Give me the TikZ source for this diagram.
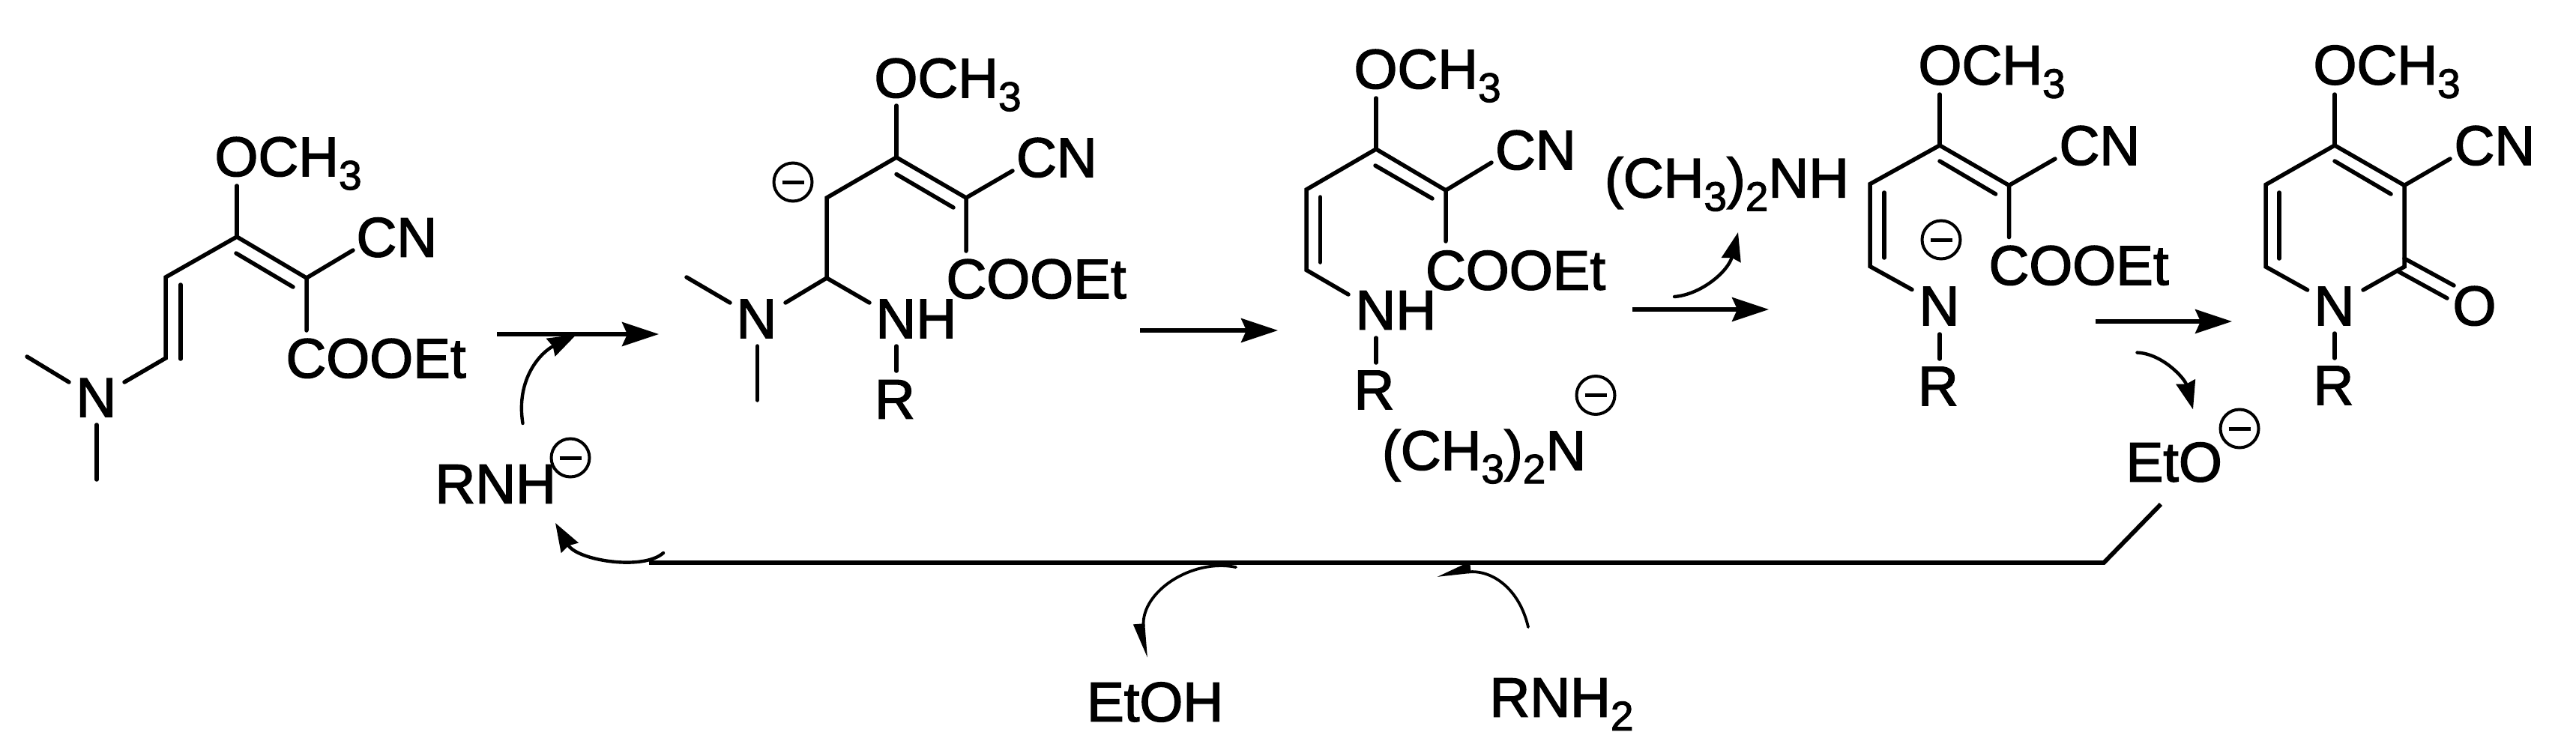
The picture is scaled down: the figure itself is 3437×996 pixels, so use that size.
\documentclass[tikz,border=0pt]{standalone}
\usepackage{fontspec}
\setmainfont{Liberation Sans}
\newfontface\chemfont[FakeBold=2]{Liberation Sans}
\usetikzlibrary{arrows.meta}
\newcommand{\lowidx}[1]{\raisebox{-18pt}{\fontsize{55}{60}\selectfont #1}}
\tikzset{
  lbl/.style={anchor=base west,inner sep=0pt,outer sep=0pt,font=\fontsize{74.5}{80}\chemfont},
  bond/.style={line width=5.5pt,line cap=round,line join=miter},
  rxn/.style={line width=5.3pt,-{Stealth[length=49pt,width=32pt,inset=7pt]}},
  curvy/.style={line width=4.4pt,line cap=round,-{Stealth[length=38pt,width=26pt,inset=3pt]}},
  halfcurvy/.style={line width=3.8pt,line cap=round,-{Stealth[length=40pt,width=26pt,inset=0pt,right]}},
  chg/.style={circle,draw,minimum size=51pt,inner sep=0pt,line width=4pt,
    path picture={\draw[line width=5pt] ([xshift=-14.5pt]path picture bounding box.center) -- ([xshift=14.5pt]path picture bounding box.center);}}
}
\begin{document}
\begin{tikzpicture}[x=1pt,y=-1pt]
\useasboundingbox (0,0) rectangle (3437,996);
\fill[white] (0,0) rectangle (3437,996);

% --- molecule 1
\node[lbl] (a_ome) at (286.5,235) {OCH\lowidx{3}};
\node[lbl] (a_cn) at (475.5,342.5) {CN};
\node[lbl] (a_est) at (381.5,504) {COOEt};
\node[lbl] (a_n) at (101.5,556.4) {N};
\coordinate (a1) at (316,316);
\coordinate (a2) at (409,371);
\coordinate (a3) at (221,370);
\coordinate (a4) at (221,478);
\coordinate (a1o) at (316,248);
\coordinate (a2cn) at (471,334);
\coordinate (a2e) at (409,441);
\coordinate (a4n) at (166,510);
\coordinate (ai1) at (241,380);
\coordinate (ai2) at (241,479);
\coordinate (ai3) at (315,338);
\coordinate (ai4) at (391,383);
\coordinate (am1) at (36,476);
\coordinate (am1n) at (92,510);
\coordinate (am2n) at (129,567);
\coordinate (am2) at (129,640);
\draw[bond] (a4n) -- (a4) -- (a3) -- (a1) -- (a2) -- (a2e);
\draw[bond] (a1o) -- (a1);
\draw[bond] (a2) -- (a2cn);
\draw[bond] (ai1) -- (ai2);
\draw[bond] (ai3) -- (ai4);
\draw[bond] (am1) -- (am1n);
\draw[bond] (am2n) -- (am2);

% --- molecule 2
\node[lbl] (b_ome) at (1166.5,130) {OCH\lowidx{3}};
\node[lbl] (b_cn) at (1356,236) {CN};
\node[lbl] (b_est) at (1262.5,398) {COOEt};
\node[lbl] (b_n) at (982.5,451) {N};
\node[lbl] (b_nh) at (1168.5,451) {NH};
\node[lbl] (b_r) at (1167,558.6) {R};
\node[chg] (b_c) at (1058,243) {};
\coordinate (b1) at (1196,210);
\coordinate (b2) at (1289,264);
\coordinate (b3) at (1103,264);
\coordinate (b4) at (1103,371);
\coordinate (b1o) at (1196,141);
\coordinate (b2cn) at (1351,228);
\coordinate (b2e) at (1289,335);
\coordinate (b4n) at (1048,404);
\coordinate (b4h) at (1160,404);
\coordinate (bi1) at (1196,232.5);
\coordinate (bi2) at (1272,277);
\coordinate (bm1) at (916,370);
\coordinate (bm1n) at (974,404);
\coordinate (bm2n) at (1010.4,462);
\coordinate (bm2) at (1010.4,534);
\coordinate (brn) at (1196,462);
\coordinate (brr) at (1196,495);
\draw[bond] (b4n) -- (b4) -- (b3) -- (b1) -- (b2) -- (b2e);
\draw[bond] (b4) -- (b4h);
\draw[bond] (b1o) -- (b1);
\draw[bond] (b2) -- (b2cn);
\draw[bond] (bi1) -- (bi2);
\draw[bond] (bm1) -- (bm1n);
\draw[bond] (bm2n) -- (bm2);
\draw[bond] (brn) -- (brr);

% --- molecule 3
\node[lbl] (c_ome) at (1806.5,118) {OCH\lowidx{3}};
\node[lbl] (c_cn) at (1995,226) {CN};
\node[lbl] (c_est) at (1902,386.5) {COOEt};
\node[lbl] (c_nh) at (1808.5,439.6) {NH};
\node[lbl] (c_r) at (1806.5,546) {R};
\coordinate (c1) at (1836,199);
\coordinate (c2) at (1929,254);
\coordinate (c3) at (1743,253);
\coordinate (c4) at (1743,360.4);
\coordinate (c1o) at (1836,131);
\coordinate (c2cn) at (1990,217);
\coordinate (c2e) at (1929,322);
\coordinate (c4n) at (1799,393);
\coordinate (ci1) at (1761.4,263);
\coordinate (ci2) at (1761.4,350);
\coordinate (ci3) at (1835,221);
\coordinate (ci4) at (1911,265);
\coordinate (crn) at (1836,451);
\coordinate (crr) at (1836,484);
\draw[bond] (c4n) -- (c4) -- (c3) -- (c1) -- (c2) -- (c2e);
\draw[bond] (c1o) -- (c1);
\draw[bond] (c2) -- (c2cn);
\draw[bond] (ci1) -- (ci2);
\draw[bond] (ci3) -- (ci4);
\draw[bond] (crn) -- (crr);

\node[lbl] (dma) at (1844,627) {(CH\lowidx{3})\lowidx{2}N};
\node[chg] (dma_c) at (2129,527.5) {};
\node[lbl] (dmah) at (2141,263.4) {(CH\lowidx{3})\lowidx{2}NH};

% --- molecule 4
\node[lbl] (d_ome) at (2559.5,112.6) {OCH\lowidx{3}};
\node[lbl] (d_cn) at (2747.5,220) {CN};
\node[lbl] (d_est) at (2653.5,380) {COOEt};
\node[lbl] (d_n) at (2560.5,434) {N};
\node[lbl] (d_r) at (2559,541) {R};
\node[chg] (d_c) at (2590,320) {};
\coordinate (d1) at (2588,194);
\coordinate (d2) at (2680.5,247.4);
\coordinate (d3) at (2495,245.6);
\coordinate (d4) at (2495,355.5);
\coordinate (d1o) at (2588,126);
\coordinate (d2cn) at (2742,212);
\coordinate (d2e) at (2680.5,316.6);
\coordinate (d4n) at (2551,386.5);
\coordinate (di1) at (2514,257);
\coordinate (di2) at (2514,344);
\coordinate (di3) at (2588,215);
\coordinate (di4) at (2662.6,259);
\coordinate (drn) at (2588,446);
\coordinate (drr) at (2588,479);
\draw[bond] (d4n) -- (d4) -- (d3) -- (d1) -- (d2) -- (d2e);
\draw[bond] (d1o) -- (d1);
\draw[bond] (d2) -- (d2cn);
\draw[bond] (di1) -- (di2);
\draw[bond] (di3) -- (di4);
\draw[bond] (drn) -- (drr);

% --- molecule 5
\node[lbl] (e_ome) at (3086.5,112.6) {OCH\lowidx{3}};
\node[lbl] (e_cn) at (3274.5,220) {CN};
\node[lbl] (e_n) at (3087.5,434) {N};
\node[lbl] (e_o) at (3272.5,434) {O};
\node[lbl] (e_r) at (3086.5,540) {R};
\coordinate (e1) at (3115,194);
\coordinate (e2) at (3208,247.4);
\coordinate (e3) at (3023,246.5);
\coordinate (e4) at (3023,356);
\coordinate (e5) at (3208,356);
\coordinate (e1o) at (3115,126);
\coordinate (e2cn) at (3269,212);
\coordinate (e4n) at (3078.6,387);
\coordinate (e5n) at (3153,387);
\coordinate (ei1) at (3041,257);
\coordinate (ei2) at (3041,345);
\coordinate (ei3) at (3115,215);
\coordinate (ei4) at (3190,259);
\coordinate (eo1) at (3208,345);
\coordinate (eo2) at (3274,381);
\coordinate (eo3) at (3200.5,362.6);
\coordinate (eo4) at (3265,398);
\coordinate (ern) at (3115,445);
\coordinate (err) at (3115,478);
\draw[bond] (e4n) -- (e4) -- (e3) -- (e1) -- (e2) -- (e5) -- (e5n);
\draw[bond] (e1o) -- (e1);
\draw[bond] (e2) -- (e2cn);
\draw[bond] (ei1) -- (ei2);
\draw[bond] (ei3) -- (ei4);
\draw[bond] (eo1) -- (eo2);
\draw[bond] (eo3) -- (eo4);
\draw[bond] (ern) -- (err);

% --- reaction arrows
\coordinate (r1s) at (663,446); \coordinate (r1e) at (879,446);
\coordinate (r2s) at (1521,441); \coordinate (r2e) at (1705,441);
\coordinate (r3s) at (2178,413); \coordinate (r3e) at (2360,413);
\coordinate (r4s) at (2796,429); \coordinate (r4e) at (2978,429);
\draw[rxn] (r1s) -- (r1e);
\draw[rxn] (r2s) -- (r2e);
\draw[rxn] (r3s) -- (r3e);
\draw[rxn] (r4s) -- (r4e);

% --- ions and loop
\node[lbl] (rnh) at (580.5,671.7) {RNH};
\node[chg] (rnh_c) at (761,611) {};
\node[lbl] (eto) at (2836.5,642.5) {EtO};
\node[chg] (eto_c) at (2988,572) {};
\node[lbl] (etoh) at (1450,962.7) {EtOH};
\node[lbl] (rnh2) at (1987.5,956.7) {RNH\lowidx{2}};

\coordinate (l1) at (2883,673);
\coordinate (l2) at (2807,751);
\coordinate (l3) at (866,751);
\draw[line width=5.8pt] (l1) -- (l2) -- (l3);

% --- curved arrows
\coordinate (k1s) at (697.5,565); \coordinate (k1e) at (769,446.6);
\draw[curvy] (k1s) .. controls (688,505) and (722,470) .. (k1e);
\coordinate (k2s) at (885,738); \coordinate (k2e) at (741,698);
\draw[curvy] (k2s) .. controls (858,762) and (770,748) .. (k2e);
\coordinate (k3s) at (2234,396); \coordinate (k3e) at (2319,310);
\draw[curvy] (k3s) .. controls (2270,393) and (2306,362) .. (k3e);
\coordinate (k4s) at (2851.5,470.6); \coordinate (k4e) at (2926,546.5);
\draw[curvy] (k4s) .. controls (2885,472) and (2915,505) .. (k4e);
\coordinate (k5s) at (1649,757); \coordinate (k5e) at (1529,878);
\draw[halfcurvy] (k5s) .. controls (1590,745) and (1522,790) .. (k5e);
\coordinate (k6s) at (2039,837); \coordinate (k6e) at (1917,768);
\draw[halfcurvy] (k6s) .. controls (2027,785) and (1990,760) .. (k6e);
\end{tikzpicture}
\end{document}
